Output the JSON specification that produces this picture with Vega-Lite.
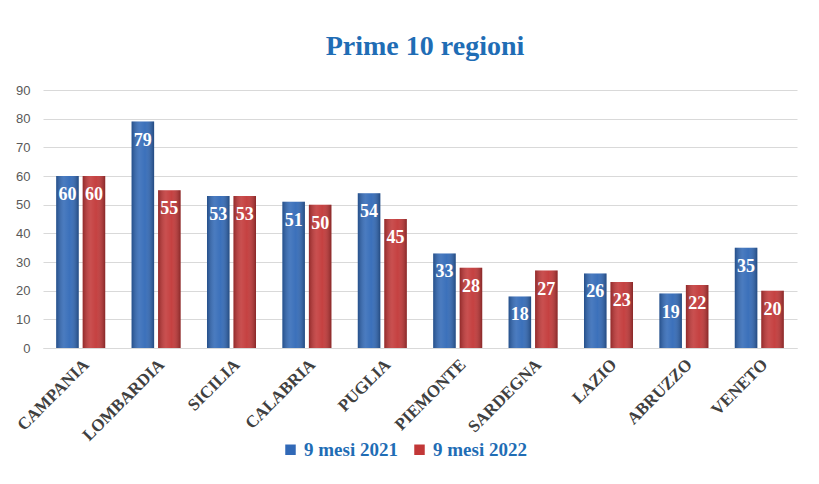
{
  "$schema": "https://vega.github.io/schema/vega-lite/v6.json",
  "width": 754,
  "height": 258,
  "autosize": {"type": "none"},
  "padding": {"left": 43, "top": 90, "right": 22, "bottom": 136},
  "background": "white",
  "view": {"stroke": null},
  "title": {"text": "Prime 10 regioni", "font": "Liberation Serif", "fontSize": 28, "fontWeight": "bold", "color": "#1f6db5", "anchor": "middle", "offset": 23, "dx": 5},
  "data": {"values": [
    {"regione": "CAMPANIA", "periodo": "9 mesi 2021", "valore": 60},
    {"regione": "CAMPANIA", "periodo": "9 mesi 2022", "valore": 60},
    {"regione": "LOMBARDIA", "periodo": "9 mesi 2021", "valore": 79},
    {"regione": "LOMBARDIA", "periodo": "9 mesi 2022", "valore": 55},
    {"regione": "SICILIA", "periodo": "9 mesi 2021", "valore": 53},
    {"regione": "SICILIA", "periodo": "9 mesi 2022", "valore": 53},
    {"regione": "CALABRIA", "periodo": "9 mesi 2021", "valore": 51},
    {"regione": "CALABRIA", "periodo": "9 mesi 2022", "valore": 50},
    {"regione": "PUGLIA", "periodo": "9 mesi 2021", "valore": 54},
    {"regione": "PUGLIA", "periodo": "9 mesi 2022", "valore": 45},
    {"regione": "PIEMONTE", "periodo": "9 mesi 2021", "valore": 33},
    {"regione": "PIEMONTE", "periodo": "9 mesi 2022", "valore": 28},
    {"regione": "SARDEGNA", "periodo": "9 mesi 2021", "valore": 18},
    {"regione": "SARDEGNA", "periodo": "9 mesi 2022", "valore": 27},
    {"regione": "LAZIO", "periodo": "9 mesi 2021", "valore": 26},
    {"regione": "LAZIO", "periodo": "9 mesi 2022", "valore": 23},
    {"regione": "ABRUZZO", "periodo": "9 mesi 2021", "valore": 19},
    {"regione": "ABRUZZO", "periodo": "9 mesi 2022", "valore": 22},
    {"regione": "VENETO", "periodo": "9 mesi 2021", "valore": 35},
    {"regione": "VENETO", "periodo": "9 mesi 2022", "valore": 20}
  ]},
  "encoding": {
    "x": {"field": "regione", "type": "nominal", "sort": null,
      "scale": {"paddingInner": 0.35, "paddingOuter": 0.175},
      "axis": {"title": null, "labelAngle": -45, "labelFont": "Liberation Serif", "labelFontWeight": "bold", "labelFontSize": 17, "labelColor": "#404040", "ticks": false, "domainColor": "#d9d9d9", "domainWidth": 1, "labelPadding": 8}},
    "xOffset": {"field": "periodo", "type": "nominal", "scale": {"paddingInner": 0.15}},
    "y": {"field": "valore", "type": "quantitative", "scale": {"domain": [0, 90]},
      "axis": {"title": null, "values": [0, 10, 20, 30, 40, 50, 60, 70, 80, 90], "domain": false, "ticks": false, "labelFont": "Liberation Sans", "labelFontSize": 13, "labelColor": "#595959", "labelPadding": 13, "gridColor": "#d9d9d9", "gridWidth": 1}}
  },
  "layer": [
    {"mark": {"type": "bar"},
     "encoding": {"color": {"field": "periodo", "type": "nominal",
       "scale": {"range": ["#3169b7", "#c23737"]},
       "legend": {"orient": "none", "legendX": 238, "legendY": 350, "direction": "horizontal", "title": null, "symbolType": "square", "symbolSize": 110, "symbolStrokeWidth": 0, "labelFont": "Liberation Serif", "labelFontWeight": "bold", "labelFontSize": 19, "labelColor": "#1f6db5", "columnPadding": 12}}}},
    {"mark": {"type": "bar", "fill": {"gradient": "linear", "x1": 0, "x2": 1, "y1": 0, "y2": 0, "stops": [
      {"offset": 0, "color": "rgba(0,0,0,0.25)"},
      {"offset": 0.35, "color": "rgba(255,255,255,0.12)"},
      {"offset": 0.6, "color": "rgba(255,255,255,0.05)"},
      {"offset": 1, "color": "rgba(0,0,0,0.3)"}]}}},
    {"mark": {"type": "text", "baseline": "middle", "dy": 19, "font": "Liberation Serif", "fontWeight": "bold", "fontSize": 18, "color": "white"},
     "encoding": {"text": {"field": "valore", "type": "quantitative"}}}
  ]
}
